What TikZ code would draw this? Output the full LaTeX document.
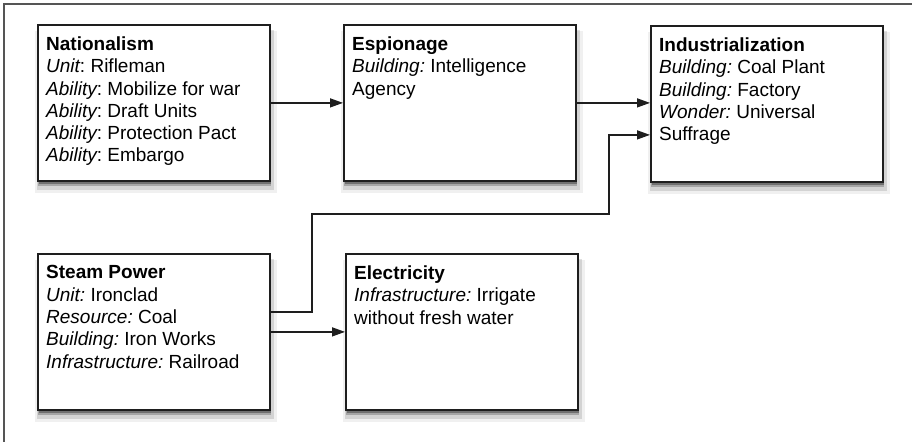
\documentclass[tikz,border=0pt]{standalone}
\usepackage{fontspec}
\setmainfont{Liberation Sans}
\usetikzlibrary{arrows.meta,shadows}
\definecolor{framecol}{HTML}{555555}
\definecolor{boxcol}{HTML}{1E1E1E}
\newcommand{\itl}[1]{{\itshape #1}}
\frenchspacing
\tikzset{
  techbox/.style={draw=boxcol, line width=1.8bp, fill=white, rectangle,
    minimum width=232bp, minimum height=156bp, inner sep=0pt, anchor=north west,
    general shadow={fill=black, opacity=.06, shadow xshift=2bp, shadow yshift=-9bp, shadow scale=1.04},
    general shadow={fill=black, opacity=.12, shadow xshift=1.5bp, shadow yshift=-7bp, shadow scale=1.02},
    general shadow={fill=black, opacity=.22, shadow xshift=1bp, shadow yshift=-5bp, shadow scale=1.005},
    general shadow={fill=black, opacity=.32, shadow xshift=1bp, shadow yshift=-3bp}},
  boxtext/.style={label={[anchor=north west, inner sep=0pt, align=left,
    font=\fontsize{19bp}{22.3bp}\selectfont\frenchspacing, xshift=9bp, yshift=-12.5bp]north west:{#1}}},
  arr/.style={draw=boxcol, line width=1.4bp, -{Triangle[length=13bp,width=9bp]}},
}
\begin{document}
\begin{tikzpicture}[x=1bp,y=-1bp]
\useasboundingbox (0,0) rectangle (912,442);
\draw[framecol, line width=1.3bp] (4,442) -- (4,4) -- (912,4);

\node[techbox, boxtext={\textbf{Nationalism}\\\itl{Unit}: Rifleman\\\itl{Ability}: Mobilize for war\\\itl{Ability}: Draft Units\\\itl{Ability}: Protection Pact\\\itl{Ability}: Embargo}] (nat) at (37,24) {};
\node[techbox, boxtext={\textbf{Espionage}\\\itl{Building:} Intelligence\\Agency}] (esp) at (343,24) {};
\node[techbox, boxtext={\textbf{Industrialization}\\\itl{Building:} Coal Plant\\\itl{Building:} Factory\\\itl{Wonder:} Universal\\Suffrage}] (ind) at (650,25) {};
\node[techbox, boxtext={\textbf{Steam Power}\\\itl{Unit:} Ironclad\\\itl{Resource:} Coal\\\itl{Building:} Iron Works\\\itl{Infrastructure:} Railroad}] (steam) at (37,253) {};
\node[techbox, boxtext={\textbf{Electricity}\\\itl{Infrastructure:} Irrigate\\without fresh water}] (elec) at (345,253) {};

\coordinate (k1) at (312,214);
\coordinate (k2) at (609,214);

\draw[arr] (nat.east) -- (esp.west);
\draw[arr] (esp.east) -- (esp.east -| ind.west);
\draw[arr] ([yshift=20bp]steam.east) -| (k1) -- (k2) |- ([yshift=-31bp]ind.west);
\draw[arr] (steam.east) -- (elec.west);
\end{tikzpicture}
\end{document}
